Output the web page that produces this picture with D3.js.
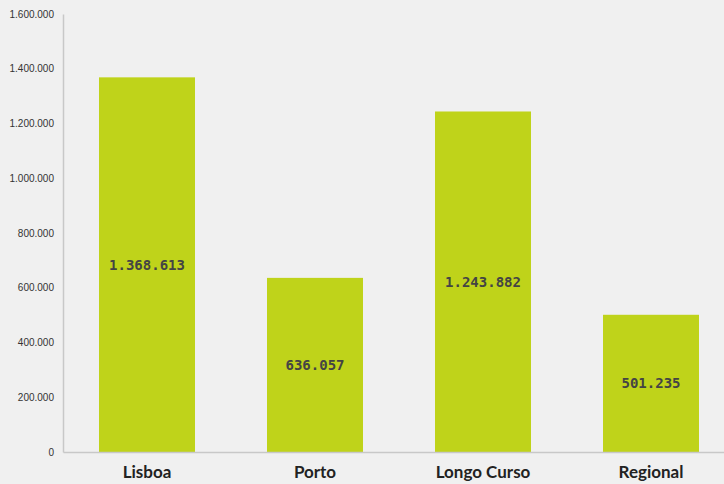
<!DOCTYPE html>
<html>
<head>
<meta charset="utf-8">
<script src="https://cdn.jsdelivr.net/npm/d3@7"></script>
<style>
  html, body { margin: 0; padding: 0; background: #f0f0f0; }
  svg { display: block; }
</style>
</head>
<body>
<svg id="chart" width="724" height="484"></svg>
<script>
// Passenger totals by service
const categories = ["Lisboa", "Porto", "Longo Curso", "Regional"];
const values = [1368613, 636057, 1243882, 501235];
const tickValues = [0, 200000, 400000, 600000, 800000, 1000000, 1200000, 1400000, 1600000];

const W = 724, H = 484;
const margin = { left: 63, top: 14, bottom: 32 };
const svg = d3.select("#chart");

svg.append("rect").attr("width", W).attr("height", H).attr("fill", "#f0f0f0");

// Portuguese number format: dot thousands separator
const pt = d3.formatLocale({ decimal: ",", thousands: ".", grouping: [3], currency: ["€", ""] });
const fmt = pt.format(",d");

const x = d3.scaleBand()
  .domain(categories)
  .range([margin.left, margin.left + 168 * categories.length])
  .paddingInner(0.4286)
  .paddingOuter(0.2143);

const y = d3.scaleLinear()
  .domain([0, 1600000])
  .range([H - margin.bottom, margin.top]);

// Bars
svg.append("g").selectAll("rect")
  .data(values)
  .join("rect")
  .attr("x", (d, i) => x(categories[i]))
  .attr("y", d => y(d))
  .attr("width", x.bandwidth())
  .attr("height", d => y(0) - y(d))
  .attr("fill", "#bfd31a");

// Value labels centred in each bar
svg.append("g").selectAll("text")
  .data(values)
  .join("text")
  .attr("x", (d, i) => x(categories[i]) + x.bandwidth() / 2)
  .attr("y", d => (y(d) + y(0)) / 2)
  .attr("dy", "0.36em")
  .attr("text-anchor", "middle")
  .attr("font-family", "'DejaVu Sans Mono', monospace")
  .attr("font-weight", "bold")
  .attr("font-size", 14)
  .attr("fill", "#444")
  .text(d => fmt(d));

// Y axis
const yAxis = svg.append("g")
  .attr("transform", `translate(${margin.left},0)`)
  .call(d3.axisLeft(y).tickValues(tickValues).tickSize(0).tickPadding(9).tickFormat(fmt));
yAxis.select(".domain").attr("stroke", "#c8c8c8").attr("stroke-width", 1.5);
yAxis.selectAll("text")
  .attr("font-family", "'Liberation Sans', Arial, sans-serif")
  .attr("font-size", 10)
  .attr("fill", "#333");

// X axis baseline and category labels
const xAxis = svg.append("g")
  .attr("transform", `translate(0,${y(0)})`)
  .call(d3.axisBottom(x).tickSize(0).tickPadding(14));
xAxis.select(".domain").attr("stroke", "#c8c8c8").attr("stroke-width", 1.5);
xAxis.selectAll("text")
  .attr("font-family", "Lato, 'Open Sans', sans-serif")
  .attr("font-weight", "bold")
  .attr("font-size", 17)
  .attr("fill", "#222");
</script>
</body>
</html>
